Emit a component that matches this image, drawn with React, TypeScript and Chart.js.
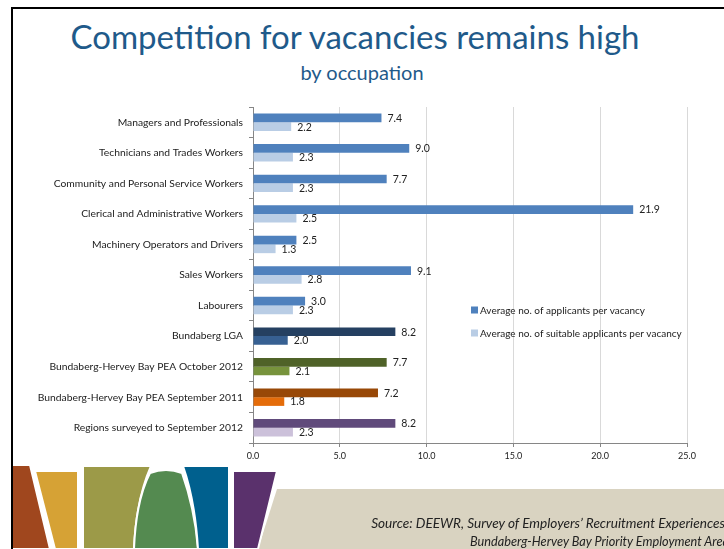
import React, { useEffect, useRef } from "react";
import { Chart, registerables } from "chart.js";

Chart.register(...registerables);

const categories = [
  "Managers and Professionals",
  "Technicians and Trades Workers",
  "Community and Personal Service Workers",
  "Clerical and Administrative Workers",
  "Machinery Operators and Drivers",
  "Sales Workers",
  "Labourers",
  "Bundaberg LGA",
  "Bundaberg-Hervey Bay PEA October 2012",
  "Bundaberg-Hervey Bay PEA September 2011",
  "Regions surveyed to September 2012",
];
const applicants = [7.4, 9.0, 7.7, 21.9, 2.5, 9.1, 3.0, 8.2, 7.7, 7.2, 8.2];
const suitable = [2.2, 2.3, 2.3, 2.5, 1.3, 2.8, 2.3, 2.0, 2.1, 1.8, 2.3];
const darkColors = ["#4F81BD", "#4F81BD", "#4F81BD", "#4F81BD", "#4F81BD", "#4F81BD", "#4F81BD", "#254061", "#4F6228", "#984807", "#604A7B"];
const lightColors = ["#B9CDE5", "#B9CDE5", "#B9CDE5", "#B9CDE5", "#B9CDE5", "#B9CDE5", "#B9CDE5", "#376092", "#77933C", "#E46C0A", "#CCC1DA"];
const seriesNames = ["Average no. of applicants per vacancy", "Average no. of suitable applicants per vacancy"];
const xTicks = [0, 5, 10, 15, 20, 25];

const FONT = "Lato, 'Open Sans', sans-serif";

const labelPlugin = {
  id: "barLabels",
  afterDatasetsDraw(chart: any) {
    const ctx = chart.ctx;
    ctx.save();
    ctx.font = `10.5px ${FONT}`;
    ctx.fillStyle = "#222";
    ctx.textAlign = "left";
    ctx.textBaseline = "middle";
    chart.data.datasets.forEach((ds: any, di: number) => {
      const meta = chart.getDatasetMeta(di);
      meta.data.forEach((el: any, i: number) => {
        ctx.fillText(Number(ds.data[i]).toFixed(1), el.x + 6, el.y + 0.5);
      });
    });
    ctx.restore();
  },
};

const legendPlugin = {
  id: "innerLegend",
  afterDraw(chart: any) {
    const ctx = chart.ctx;
    const xs = chart.scales.x;
    const x0 = xs.getPixelForValue(12.5) + 1;
    const ys = [310, 333];
    ctx.save();
    ctx.font = `10px ${FONT}`;
    ctx.textBaseline = "middle";
    ctx.textAlign = "left";
    seriesNames.forEach((name, i) => {
      ctx.fillStyle = i === 0 ? darkColors[0] : lightColors[0];
      ctx.fillRect(x0, ys[i] - 3.5, 7, 7);
      ctx.fillStyle = "#222";
      ctx.fillText(name, x0 + 9, ys[i] + 0.5);
    });
    ctx.restore();
  },
};

function ChartCanvas() {
  const ref = useRef<HTMLCanvasElement | null>(null);
  useEffect(() => {
    if (!ref.current) return;
    const chart = new Chart(ref.current, {
      type: "bar",
      data: {
        labels: categories,
        datasets: [
          { label: seriesNames[0], data: applicants, backgroundColor: darkColors, categoryPercentage: 0.57, barPercentage: 1.0 },
          { label: seriesNames[1], data: suitable, backgroundColor: lightColors, categoryPercentage: 0.57, barPercentage: 1.0 },
        ],
      },
      options: {
        indexAxis: "y",
        animation: false,
        responsive: false,
        maintainAspectRatio: false,
        layout: { padding: { left: 0, top: 107, right: 37, bottom: 86 } },
        plugins: { legend: { display: false }, tooltip: { enabled: false } },
        scales: {
          x: {
            min: 0,
            max: 25,
            afterBuildTicks(scale: any) {
              scale.ticks = xTicks.map((v) => ({ value: v }));
            },
            afterFit(scale: any) {
              scale.height = 20;
            },
            ticks: {
              font: { family: FONT, size: 9 },
              color: "#222",
              padding: 4,
              callback: (v: any) => Number(v).toFixed(1),
            },
            grid: { color: "#D9D9D9", lineWidth: 1, tickLength: 4, tickColor: "#868686" },
            border: { color: "#868686" },
          },
          y: {
            afterFit(scale: any) {
              scale.width = 253;
            },
            ticks: { font: { family: FONT, size: 10.3 }, color: "#222", padding: 6, autoSkip: false },
            grid: { drawOnChartArea: false, tickLength: 4, tickColor: "#868686", offset: true },
            border: { color: "#868686" },
          },
        },
      },
      plugins: [labelPlugin, legendPlugin],
    } as any);
    return () => chart.destroy();
  }, []);
  return <canvas ref={ref} width={724} height={549} style={{ position: "absolute", left: 0, top: 0, width: 724, height: 549 }} />;
}

export default function App() {
  return (
    <div style={{ position: "absolute", left: 0, top: 0, width: 724, height: 549, overflow: "hidden", background: "#fff", fontFamily: FONT }}>
      <svg width={724} height={549} style={{ position: "absolute", left: 0, top: 0 }}>
        <path d="M277,489 L730,489 L730,549 L258,549 Z" fill="#D9D3C1" />
        <path d="M11,465 L30,465 L50,549 L11,549 Z" fill="#A0471E" stroke="#fff" strokeWidth={2} />
        <path d="M35,471 L78,471 L78,549 L55,549 Z" fill="#D6A235" stroke="#fff" strokeWidth={2} />
        <path d="M83,466 L151,466 Q136,500 134,549 L83,549 Z" fill="#9C9A48" stroke="#fff" strokeWidth={2} />
        <path d="M150,473 Q166,467 182,473 Q195,510 198,549 L134,549 Q136,500 150,473 Z" fill="#548A50" stroke="#fff" strokeWidth={2} />
        <path d="M183,466 L229,466 L229,549 L198,549 Q195,500 183,466 Z" fill="#00608E" stroke="#fff" strokeWidth={2} />
        <path d="M233,471 L277,471 L258,549 L233,549 Z" fill="#5A316C" stroke="#fff" strokeWidth={2} />
      </svg>
      <div style={{ position: "absolute", left: 11, top: 7, width: 2, height: 542, background: "#000" }} />
      <div style={{ position: "absolute", left: 11, top: 7, width: 713, height: 2, background: "#000" }} />
      <div style={{ position: "absolute", left: 0, top: 20, width: 710, textAlign: "center", fontSize: 33, lineHeight: "33px", color: "#1F5A8A", whiteSpace: "nowrap" }}>
        Competition for vacancies remains high
      </div>
      <div style={{ position: "absolute", left: 0, top: 62, width: 724, textAlign: "center", fontSize: 20, lineHeight: "20px", color: "#1F5A8A", whiteSpace: "nowrap" }}>
        by occupation
      </div>
      <ChartCanvas />
      <div style={{ position: "absolute", right: -4, top: 515, fontSize: 13.6, lineHeight: "16px", fontStyle: "italic", color: "#222", whiteSpace: "nowrap", textAlign: "right" }}>
        Source: DEEWR, Survey of Employers’ Recruitment Experiences,
      </div>
      <div style={{ position: "absolute", right: -5, top: 533, fontSize: 12.7, lineHeight: "16px", fontStyle: "italic", color: "#222", whiteSpace: "nowrap", textAlign: "right" }}>
        Bundaberg-Hervey Bay Priority Employment Area
      </div>
    </div>
  );
}
